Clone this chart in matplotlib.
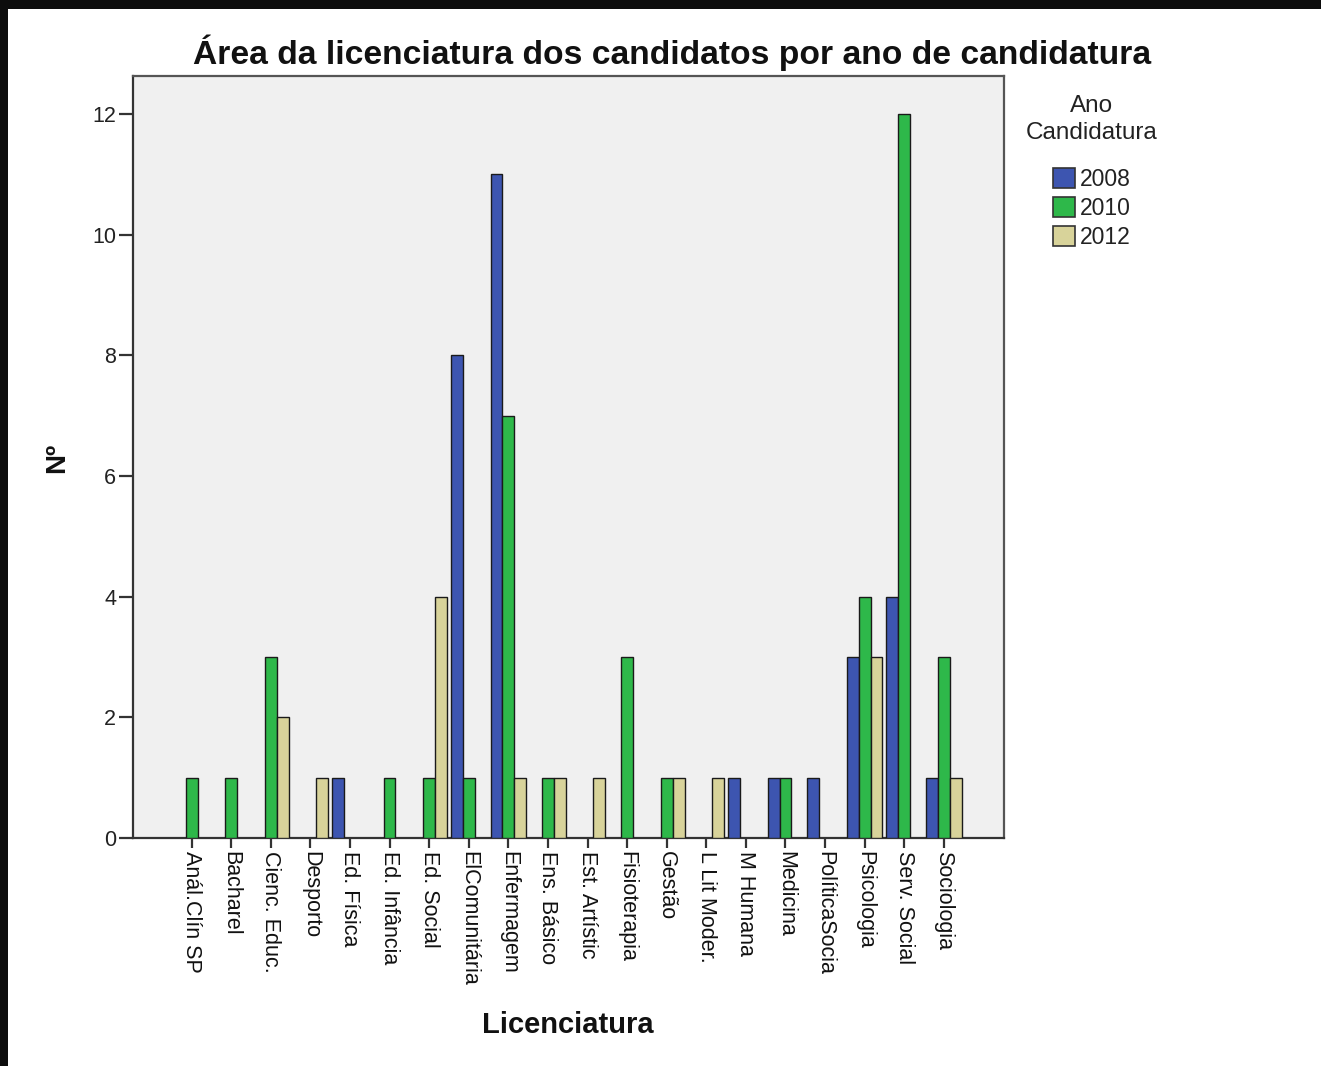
import matplotlib
matplotlib.use("Agg")
import matplotlib.pyplot as plt
from matplotlib.patches import Rectangle, Patch
import numpy as np

categories = ["Anál.Clín SP", "Bacharel", "Cienc. Educ.", "Desporto", "Ed. Física",
              "Ed. Infância", "Ed. Social", "ElComunitária", "Enfermagem", "Ens. Básico",
              "Est. Artístic", "Fisioterapia", "Gestão", "L Lit Moder.", "M Humana",
              "Medicina", "PolíticaSocia", "Psicologia", "Serv. Social", "Sociologia"]
years = ["2008", "2010", "2012"]
v2008 = [0, 0, 0, 0, 1, 0, 0, 8, 11, 0, 0, 0, 0, 0, 1, 1, 1, 3, 4, 1]
v2010 = [1, 1, 3, 0, 0, 1, 1, 1, 7, 1, 0, 3, 1, 0, 0, 1, 0, 4, 12, 3]
v2012 = [0, 0, 2, 1, 0, 0, 4, 0, 1, 1, 1, 0, 1, 1, 0, 0, 0, 3, 0, 1]
yticks = [0, 2, 4, 6, 8, 10, 12]

colors = ["#3D55B0", "#2EB84A", "#D8D39A"]
series = [v2008, v2010, v2012]

plt.rcParams['font.family'] = ['Liberation Sans', 'DejaVu Sans']

W, H = 1321, 1066
fig = plt.figure(figsize=(W / 100, H / 100), dpi=100)
fig.patch.set_facecolor("white")

# black border at top and left (screenshot frame)
fig.patches.append(Rectangle((0, 1 - 9 / H), 1, 9 / H, transform=fig.transFigure,
                             facecolor="#0d0d0d", edgecolor="none", zorder=0))
fig.patches.append(Rectangle((0, 0), 8 / W, 1, transform=fig.transFigure,
                             facecolor="#0d0d0d", edgecolor="none", zorder=0))

left, right, top, bottom = 133, 1004, 76, 838
ax = fig.add_axes([left / W, 1 - bottom / H, (right - left) / W, (bottom - top) / H])
ax.set_facecolor("#F0F0F0")

x = np.arange(len(categories))
bw = 0.30
offsets = [-bw, 0, bw]
for vals, off, col in zip(series, offsets, colors):
    vals = np.array(vals, dtype=float)
    mask = vals > 0
    ax.bar(x[mask] + off, vals[mask], width=bw, color=col, edgecolor="#1a1a1a",
           linewidth=1.0, zorder=3)

ax.set_xlim(-1.48, 20.52)
ax.set_ylim(0, 12.63)
ax.set_yticks(yticks)
ax.set_yticklabels([str(t) for t in yticks], fontsize=15.5, color="#222222")
ax.set_xticks(x)
ax.set_xticklabels(categories, rotation=-90, fontsize=15.5, color="#111111",
                   ha="center", va="top")
ax.tick_params(axis="y", length=10, width=1.6, color="#333333", pad=2)
ax.tick_params(axis="x", length=7.5, width=1.6, color="#333333", pad=2)
for s in ax.spines.values():
    s.set_color("#555555")
    s.set_linewidth(1.6)
ax.spines["left"].set_color("#333333")
ax.spines["bottom"].set_color("#333333")

fig.text(672 / W, 1 - 53 / H, "Área da licenciatura dos candidatos por ano de candidatura",
         ha="center", va="center", fontsize=24.2, fontweight="bold", color="#111111")
fig.text(57 / W, 1 - 458 / H, "Nº", rotation=90, ha="center", va="center",
         fontsize=20, fontweight="bold", color="#111111")
fig.text(568 / W, 1 - 1025 / H, "Licenciatura", ha="center", va="center",
         fontsize=21, fontweight="bold", color="#111111")

handles = [Patch(facecolor=c, edgecolor="#333333", linewidth=1.2) for c in colors]
leg = fig.legend(handles, years, title="Ano\nCandidatura", loc="upper center",
                 bbox_to_anchor=(1092 / W, 1 - 95 / H), frameon=False,
                 fontsize=16.5, title_fontsize=17.5, handlelength=0.95, handleheight=0.95,
                 handletextpad=0.25, labelspacing=0.26, borderpad=0, borderaxespad=0)
leg.get_title().set_multialignment("center")
leg.get_title().set_linespacing(1.3)
leg.get_title().set_color("#222222")
leg._legend_box.sep = 17
for t in leg.get_texts():
    t.set_color("#222222")

fig.savefig("out.png", dpi=100)
